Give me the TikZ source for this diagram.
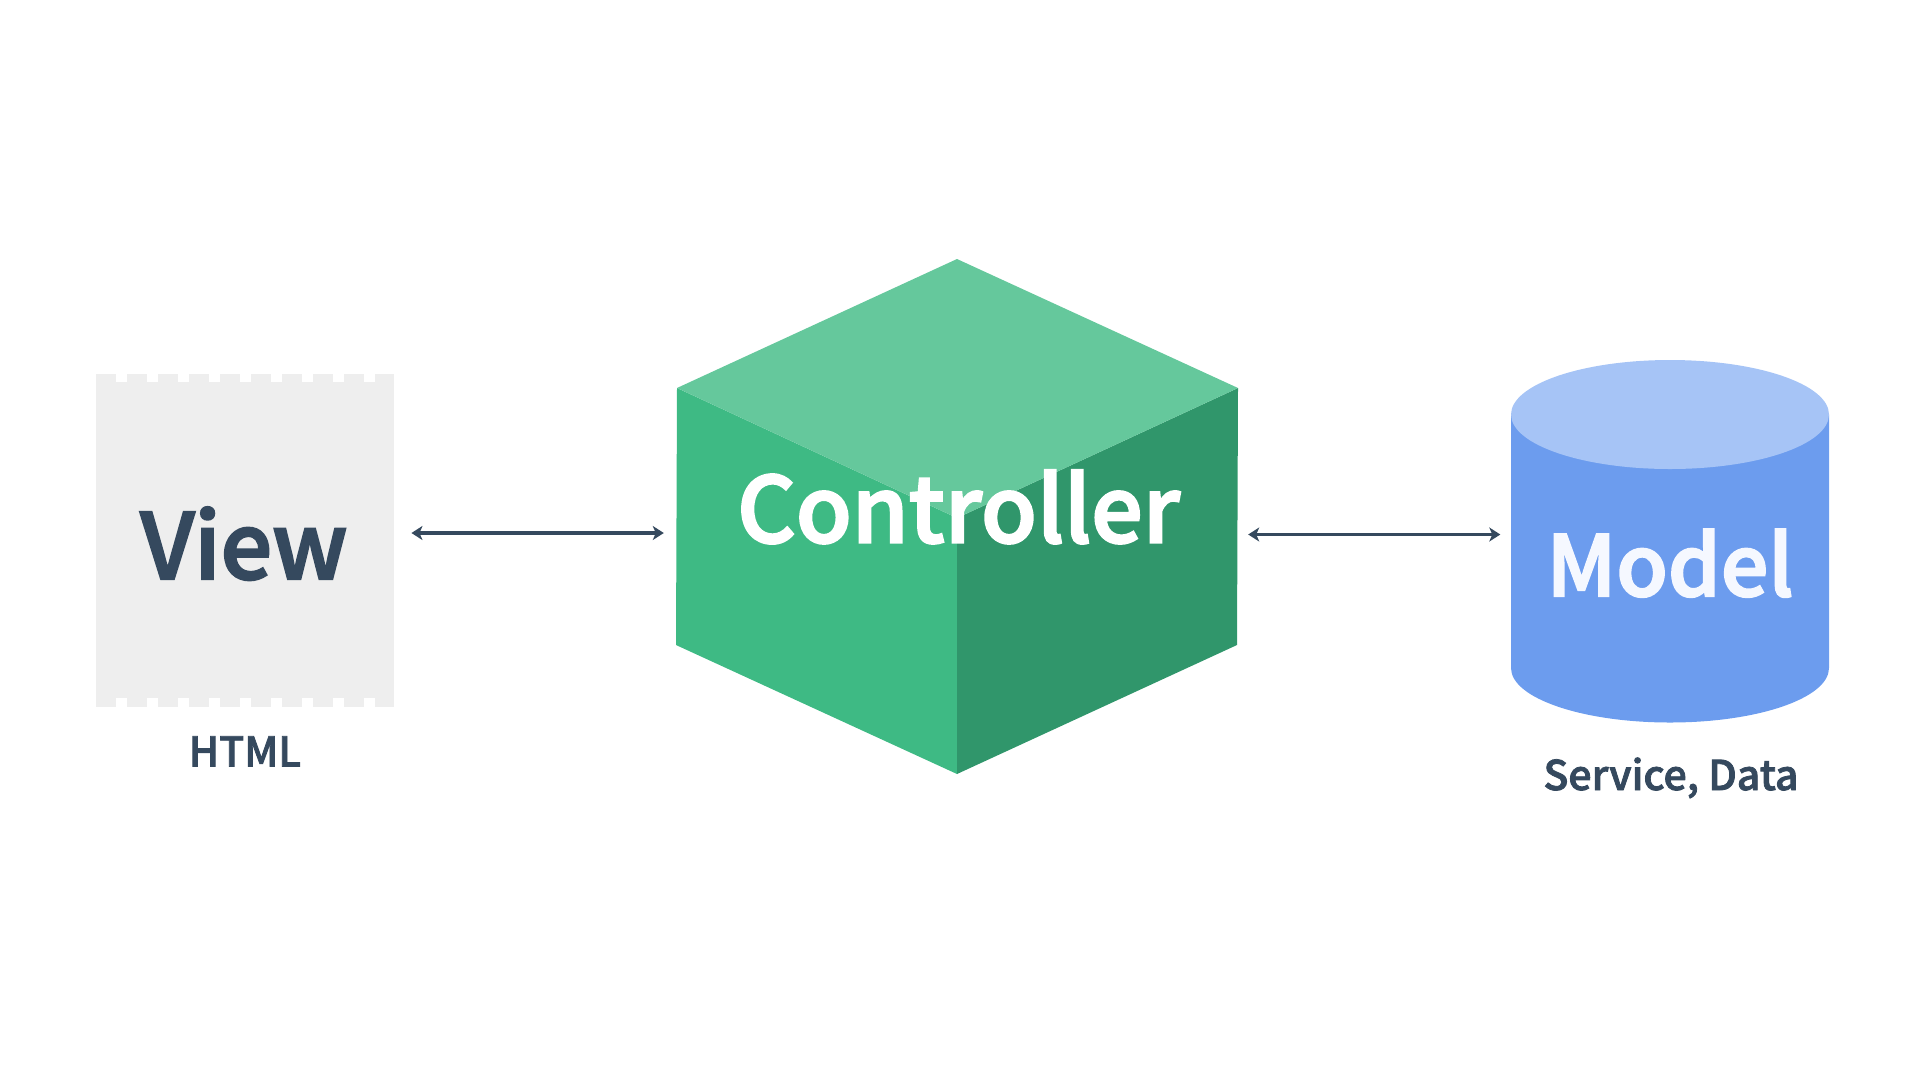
\documentclass[tikz,border=0pt]{standalone}
\usepackage{fontspec}
\usetikzlibrary{arrows.meta}
\setmainfont{Noto Sans CJK SC Medium}
\newfontfamily\heavyfont[FakeBold=2.5]{Noto Sans CJK SC Medium}
\newfontfamily\labelfont[FakeBold=2]{Noto Sans CJK SC Medium}
\definecolor{ink}{HTML}{35495E}
\definecolor{sheet}{HTML}{EEEEEE}
\definecolor{gleft}{HTML}{3EBA84}
\definecolor{gright}{HTML}{30966B}
\definecolor{gtop}{HTML}{65C89C}
\definecolor{bside}{HTML}{6C9CEE}
\definecolor{btop}{HTML}{A6C4F6}
\definecolor{mtext}{HTML}{F5F8FF}
\tikzset{
  biarrow/.style={draw=ink,line width=3.4pt,{Stealth[length=11pt,width=14pt,inset=3pt]}-{Stealth[length=11pt,width=14pt,inset=3pt]}},
  bigtext/.style={anchor=base,inner sep=0pt,font=\heavyfont\fontsize{91}{91}\selectfont},
  smalltext/.style={anchor=base,inner sep=0pt,text=ink,font=\labelfont\fontsize{41}{41}\selectfont},
}
\begin{document}
\begin{tikzpicture}[x=1pt,y=-1pt]
\useasboundingbox (0,0) rectangle (1920,1080);
% view sheet
\node[fill=sheet,inner sep=0pt,minimum width=298.5pt,minimum height=333pt] (view) at (245,540) {};
\foreach \i in {0,...,8}{
  \fill[white] (115.5+31*\i,373) rectangle ++(11.5,9);
  \fill[white] (115.5+31*\i,698) rectangle ++(11.5,9);
}
\node[bigtext,text=ink] (viewlabel) at (244,579) {View};
\node[smalltext] (htmllabel) at (245,766.5) {HTML};
% controller cube
\node[inner sep=0pt,minimum width=562pt,minimum height=516pt] (controller) at (957,516) {};
\fill[gleft] (677,388) -- (957,518) -- (957,774) -- (676,645) -- cycle;
\fill[gright] (1238,388) -- (957,518) -- (957,774) -- (1237,645) -- cycle;
\fill[gtop] (957,259) -- (1238,388) -- (957,518) -- (677,388) -- cycle;
\node[bigtext,text=white] (controllerlabel) at (958.5,542.5) {Controller};
% model cylinder
\node[inner sep=0pt,minimum width=317pt,minimum height=362pt] (model) at (1670,541) {};
\fill[bside] (1511,414.5) -- (1511,668) arc[start angle=180,end angle=360,x radius=159pt,y radius=54.5pt] -- (1829,414.5) -- cycle;
\fill[btop] (1670,414.5) ellipse[x radius=159pt,y radius=54.5pt];
\node[bigtext,text=mtext,font=\heavyfont\fontsize{84}{84}\selectfont] (modellabel) at (1670,596) {Model};
\node[smalltext] (servicelabel) at (1671,790) {Service, Data};
% connectors
\draw[biarrow,shorten <=17pt,shorten >=12pt] (view.east |- 0,533) -- (controller.west |- 0,533);
\draw[biarrow,shorten <=10pt,shorten >=11pt] (controller.east |- 0,534.5) -- (model.west |- 0,534.5);
\end{tikzpicture}
\end{document}
